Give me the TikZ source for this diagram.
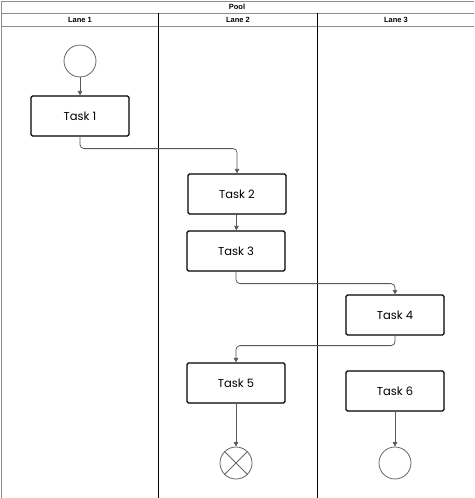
\documentclass[tikz,border=0pt]{standalone}
\usepackage{fontspec}
\setmainfont{Poppins}
\newfontfamily\headfont{Liberation Sans}
\usetikzlibrary{arrows.meta}

\tikzset{
  task/.style={draw=black, line width=1.2pt, rounded corners=1.5pt,
    minimum width=98pt, minimum height=40pt, inner sep=0pt,
    font=\fontsize{11.5}{13}\selectfont},
  event/.style={draw=black!60, circle, minimum size=32pt, inner sep=0pt, line width=0.8pt},
  flow/.style={draw=black!65, line width=0.8pt, rounded corners=4pt,
    -{Triangle[length=4.5pt,width=4.5pt]}},
  poolline/.style={draw=black!45, line width=1pt},
  laneline/.style={draw=black, line width=0.8pt},
  head/.style={font=\headfont\bfseries\fontsize{7.5}{8}\selectfont, inner sep=0pt}
}

\begin{document}
\begin{tikzpicture}[x=1pt,y=-1pt]
  \useasboundingbox (0,0) rectangle (474,498);

  %%%%% POOL %%%%%
  \draw[poolline] (1,1) -- (474,1);
  \draw[poolline] (1,13) -- (474,13);
  \draw[poolline] (1,26) -- (474,26);
  \draw[poolline] (1,1) -- (1,498);
  \draw[laneline] (158,13) -- (158,498);
  \draw[laneline] (317,13) -- (317,498);

  \node[head] (pool) at (237,7) {Pool};
  \node[head] (lane1) at (80,20) {Lane 1};
  \node[head] (lane2) at (238,20) {Lane 2};
  \node[head] (lane3) at (396,20) {Lane 3};

  %%%%% NODES %%%%%
  \node[event] (start) at (80,61) {};
  \node[task] (t1) at (80,116) {Task 1};
  \node[task] (t2) at (237,194) {Task 2};
  \node[task] (t3) at (236,251) {Task 3};
  \node[task] (t4) at (395,315) {Task 4};
  \node[task] (t5) at (236,383) {Task 5};
  \node[task] (t6) at (395,391) {Task 6};
  \node[event] (stop) at (236,463) {};
  \node[event] (done) at (395,463) {};
  \draw[draw=black!60, line width=0.8pt] (stop.north east) -- (stop.south west);
  \draw[draw=black!60, line width=0.8pt] (stop.north west) -- (stop.south east);

  %%%%% FLOWS %%%%%
  \draw[flow] (start) -- (t1);
  \draw[flow] (t1.south) -- ++(0,12) -| (t2.north);
  \draw[flow] (t2) -- (t3);
  \draw[flow] (t3.south) -- ++(0,12) -| (t4.north);
  \draw[flow] (t4.south) -- ++(0,10) -| (t5.north);
  \draw[flow] (t5) -- (stop);
  \draw[flow] (t6) -- (done);
\end{tikzpicture}
\end{document}
